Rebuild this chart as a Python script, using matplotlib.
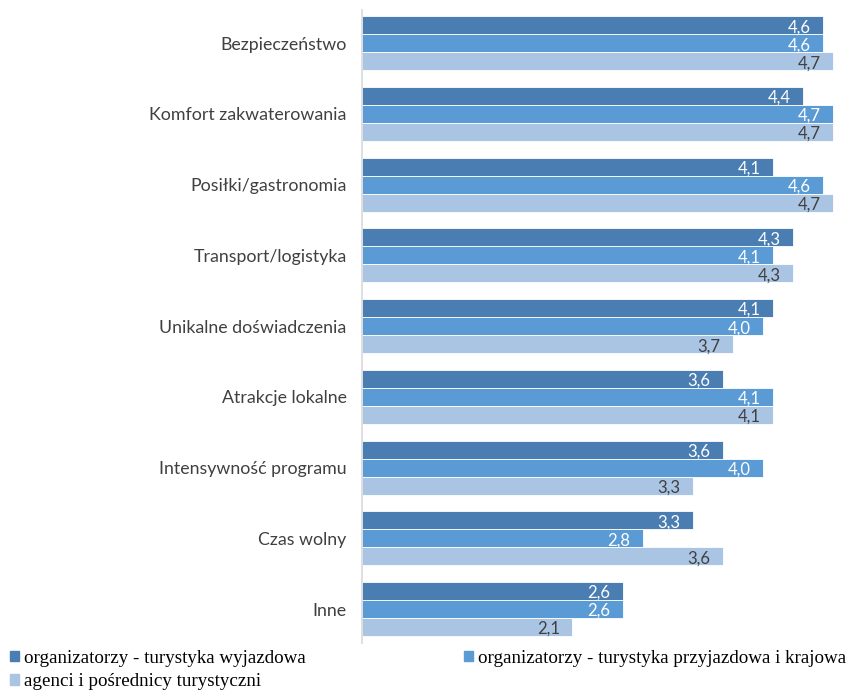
import matplotlib.pyplot as plt
import matplotlib.patches as mpatches
import numpy as np

categories = ['Bezpieczeństwo', 'Komfort zakwaterowania', 'Posiłki/gastronomia',
              'Transport/logistyka', 'Unikalne doświadczenia', 'Atrakcje lokalne',
              'Intensywność programu', 'Czas wolny', 'Inne']
series_names = ['organizatorzy - turystyka wyjazdowa',
                'organizatorzy - turystyka przyjazdowa i krajowa',
                'agenci i pośrednicy turystyczni']
wyjazdowa = [4.6, 4.4, 4.1, 4.3, 4.1, 3.6, 3.6, 3.3, 2.6]
przyjazdowa = [4.6, 4.7, 4.6, 4.1, 4.0, 4.1, 4.0, 2.8, 2.6]
agenci = [4.7, 4.7, 4.7, 4.3, 3.7, 4.1, 3.3, 3.6, 2.1]

colors = ['#4a7eb2', '#5b9bd5', '#aac4e4']
label_colors = ['white', 'white', '#404040']

fig = plt.figure(figsize=(8.54, 6.92), dpi=100)
ax = fig.add_axes([362 / 854, 49 / 692, 1 - 362 / 854, 682 / 692 - 49 / 692])

y = np.arange(len(categories))
h = 0.255
for k, vals in enumerate([wyjazdowa, przyjazdowa, agenci]):
    pos = y + (k - 1) * h
    ax.barh(pos, vals, height=h, color=colors[k], edgecolor='white', linewidth=0.6,
            label=series_names[k])
    for p, v in zip(pos, vals):
        ax.annotate(f'{v:.1f}'.replace('.', ','), (v, p), xytext=(-12, -2),
                    textcoords='offset pixels', ha='right', va='center',
                    color=label_colors[k], fontsize=12, family='Lato')

ax.set_xlim(0, (854 - 362) / 100.2)
ax.set_ylim(len(categories) - 1 + 0.48, -0.47)
ax.set_yticks(y)
ax.set_yticklabels(categories, family='Lato', fontsize=12.8, color='#404040')
ax.tick_params(axis='y', length=0, pad=11)
ax.set_xticks([])
for s in ['top', 'right', 'bottom']:
    ax.spines[s].set_visible(False)
ax.spines['left'].set_color('#d9d9d9')
ax.spines['left'].set_linewidth(1.2)

# legend: two entries on the first row, the third one below
handles = [mpatches.Patch(color=c) for c in colors]
order = [0, 2, 1]
fig.legend([handles[i] for i in order], [series_names[i] for i in order],
           loc='upper left', bbox_to_anchor=(0.005, 1 - 644 / 692), ncol=2,
           frameon=False, prop={'family': 'Liberation Serif', 'size': 13.7},
           handlelength=0.5, handleheight=0.5, handletextpad=0.25,
           columnspacing=8.3, labelspacing=0.35, borderaxespad=0.0, borderpad=0.3)

fig.savefig('out.png', dpi=100)
